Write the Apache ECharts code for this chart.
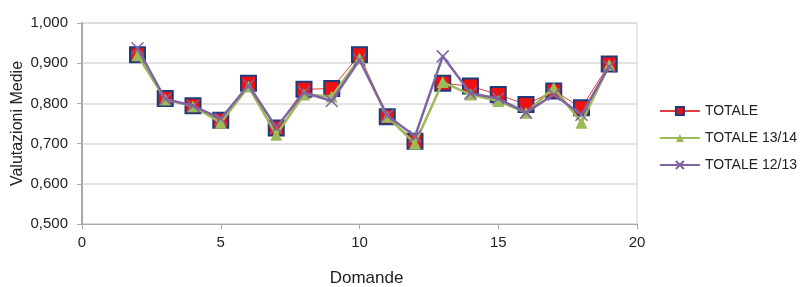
<!DOCTYPE html>
<html><head><meta charset="utf-8">
<script src="https://cdn.jsdelivr.net/npm/echarts@6/dist/echarts.min.js"></script>
<style>html,body{margin:0;padding:0;background:#fff}#c{width:805px;height:287px}</style>
</head><body><div id="c"></div>
<script>
const domande = [2,3,4,5,6,7,8,9,10,11,12,13,14,15,16,17,18,19];
const totale   = [0.921,0.812,0.794,0.758,0.850,0.739,0.835,0.837,0.921,0.767,0.706,0.850,0.843,0.822,0.797,0.831,0.789,0.898];
const tot1314  = [0.920,0.810,0.793,0.752,0.842,0.722,0.822,0.817,0.912,0.767,0.700,0.853,0.822,0.806,0.777,0.839,0.752,0.896];
const tot1213  = [0.937,0.811,0.794,0.762,0.845,0.740,0.827,0.806,0.908,0.770,0.718,0.917,0.825,0.812,0.777,0.822,0.772,0.892];
const seriesNames = ['TOTALE','TOTALE 13/14','TOTALE 12/13'];
const pairs = v => domande.map((d,i)=>[d,v[i]]);
const font = 'Liberation Sans, Arial, sans-serif';
const chart = echarts.init(document.getElementById('c'), null, {renderer:'canvas'});
chart.setOption({
  animation:false,
  textStyle:{fontFamily:font},
  grid:{left:82,right:168,top:23,bottom:63,show:true,borderColor:'#d0d0d0',borderWidth:1,containLabel:false,outerBoundsMode:'none'},
  legend:{orient:'vertical',right:3,top:99,itemGap:13,itemWidth:40,itemHeight:10,
    textStyle:{fontFamily:font,fontSize:14,color:'#222'},data:seriesNames},
  xAxis:{type:'value',min:0,max:20,interval:5,name:'Domande',nameLocation:'middle',nameGap:46,
    nameTextStyle:{fontSize:17,color:'#222',fontFamily:font,padding:[0,0,0,14]},
    axisLine:{lineStyle:{color:'#a8a8a8',width:1}},axisTick:{show:true,length:5,lineStyle:{color:'#a8a8a8'}},
    axisLabel:{fontSize:15,color:'#222',margin:11},splitLine:{show:false}},
  yAxis:{type:'value',min:0.5,max:1.0,interval:0.1,name:'Valutazioni Medie',nameLocation:'middle',nameGap:56,
    nameMoveOverlap:false,
    nameTextStyle:{fontSize:16,color:'#222',fontFamily:font},
    axisLine:{show:true,lineStyle:{color:'#a8a8a8',width:2}},axisTick:{show:true,length:5,lineStyle:{color:'#a8a8a8'}},
    axisLabel:{fontSize:15,color:'#222',margin:14,formatter:v=>v.toFixed(3).replace('.',',')},
    splitLine:{lineStyle:{color:'#d8d8d8',width:1.5}}},
  series:[
    {name:seriesNames[0],type:'line',data:pairs(totale),symbol:'rect',symbolSize:15,
      lineStyle:{color:'#e04040',width:1},itemStyle:{color:'#ee1111',borderColor:'#1f3b7a',borderWidth:2},z:2},
    {name:seriesNames[1],type:'line',data:pairs(tot1314),symbol:'triangle',symbolSize:12,
      lineStyle:{color:'#9bbb59',width:2.5},itemStyle:{color:'#9bbb59',borderColor:'#9bbb59',borderWidth:0},z:3},
    {name:seriesNames[2],type:'line',data:pairs(tot1213),symbol:'path://M0,0L10,10M10,0L0,10',symbolSize:12,
      lineStyle:{color:'#8064a2',width:2.5},itemStyle:{color:'rgba(0,0,0,0)',borderColor:'#8064a2',borderWidth:1.5},z:4}
  ]
});
</script></body></html>
